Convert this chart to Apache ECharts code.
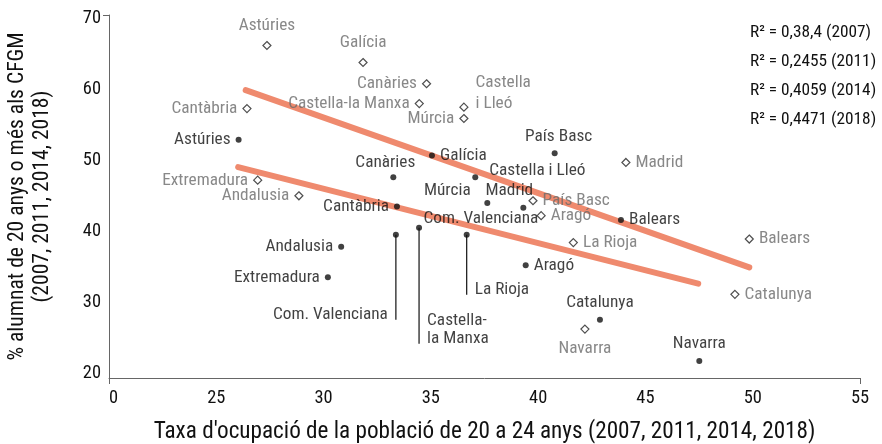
<!DOCTYPE html>
<html>
<head>
<meta charset="utf-8">
<script src="https://cdn.jsdelivr.net/npm/echarts@6/dist/echarts.min.js"></script>
<style>html,body{margin:0;padding:0;background:#fff}#c{width:882px;height:444px}</style>
</head>
<body>
<div id="c"></div>
<script>
// ---- data ----
const diamondNames = ['Astúries','Galícia','Canàries','Castella-la Manxa','Castella i Lleó','Múrcia','Cantàbria','Extremadura','Andalusia','Madrid','País Basc','Aragó','La Rioja','Navarra','Balears','Catalunya','Com. Valenciana'];
const diamondX = [27.36,31.84,34.80,34.46,36.54,36.54,26.43,26.93,28.85,44.09,39.76,40.14,41.64,42.18,49.84,49.17,34.21];
const diamondY = [66.2,63.8,60.8,58.0,57.5,55.9,57.3,47.2,45.0,49.7,44.3,42.2,38.4,26.2,38.9,31.1,41.75];

const dotNames = ['Astúries','Canàries','Galícia','Castella i Lleó','Múrcia','Madrid','País Basc','Balears','Cantàbria','Com. Valenciana','Castella-la Manxa','La Rioja','Andalusia','Extremadura','Aragó','Catalunya','Navarra'];
const dotX = [26.04,33.25,35.05,37.07,37.63,39.31,40.77,43.86,33.42,33.37,34.45,36.67,30.82,30.20,39.42,42.88,47.51];
const dotY = [52.9,47.6,50.7,47.6,44.0,43.3,51.0,41.6,43.5,39.5,40.5,39.5,37.8,33.5,35.2,27.5,21.7];

const trendUpperX = [26.37, 49.84];
const trendUpperY = [59.9, 34.9];
const trendLowerX = [26.02, 47.46];
const trendLowerY = [49.05, 32.6];

const xTickLabels = {20:'0',25:'25',30:'30',35:'35',40:'40',45:'45',50:'50',55:'55'};
const yTickValues = [20,30,40,50,60,70];
const r2Texts = ['R² = 0,38,4 (2007)','R² = 0,2455 (2011)','R² = 0,4059 (2014)','R² = 0,4471 (2018)'];
const xTitle = "Taxa d'ocupació de la població de 20 a 24 anys (2007, 2011, 2014, 2018)";
const yTitle = "% alumnat de 20 anys o més als CFGM\n(2007, 2011, 2014, 2018)";

// ---- label layout (style only) ----
const diamondLayout = {
  'Astúries':{p:'top'}, 'Galícia':{p:'top'}, 'Canàries':{p:'left'}, 'Castella-la Manxa':{p:'left'},
  'Castella i Lleó':{p:'right', o:[2,-14], t:'Castella\ni Lleó'}, 'Múrcia':{p:'left'}, 'Cantàbria':{p:'left'},
  'Extremadura':{p:'left'}, 'Andalusia':{p:'left'}, 'Madrid':{p:'right'}, 'País Basc':{p:'right'},
  'Aragó':{p:'right'}, 'La Rioja':{p:'right'}, 'Navarra':{p:'bottom'}, 'Balears':{p:'right'},
  'Catalunya':{p:'right'}, 'Com. Valenciana':{p:'right', hide:true}
};
const dotLayout = {
  'Astúries':{p:'left'}, 'Canàries':{p:'top', o:[-8,3]}, 'Galícia':{p:'right'},
  'Castella i Lleó':{p:'right', o:[6,-7]}, 'Múrcia':{p:'top', o:[-40,5]}, 'Madrid':{p:'top', o:[-14,0]},
  'País Basc':{p:'top', o:[4,1]}, 'Balears':{p:'right'}, 'Cantàbria':{p:'left'},
  'Com. Valenciana':{p:'left', o:[0,80], lead:85}, 'Castella-la Manxa':{p:'right', o:[0,102], lead:116, t:'Castella-\nla Manxa'},
  'La Rioja':{p:'right', o:[0,55], lead:60}, 'Andalusia':{p:'left'}, 'Extremadura':{p:'left'},
  'Aragó':{p:'right'}, 'Catalunya':{p:'top'}, 'Navarra':{p:'top'}
};

// ---- font selection ----
function fontAvail(name){
  const c = document.createElement('canvas').getContext('2d');
  const t = 'Extremadura Com. Valenciana 0123';
  c.font = '40px monospace'; const a = c.measureText(t).width;
  c.font = '40px "' + name + '", monospace'; const b = c.measureText(t).width;
  return Math.abs(a-b) > 0.5;
}
let FONT = 'Roboto, sans-serif';
for (const f of ['Roboto Condensed','Liberation Sans Narrow','DejaVu Sans Condensed']) {
  if (fontAvail(f)) { FONT = '"' + f + '", Roboto, sans-serif'; break; }
}
const cx = document.createElement('canvas').getContext('2d');
cx.font = '16px ' + FONT;
let k = 86 / cx.measureText('Extremadura').width;
k = Math.max(0.8, Math.min(1.15, k));
const FS = s => Math.round(s * k * 10) / 10;

const GREY = '#6a6a6a', BLACK = '#111';

const diamondData = diamondNames.map((n,i) => {
  const L = diamondLayout[n] || {p:'right'};
  const item = {name:n, value:[diamondX[i], diamondY[i]],
    label:{show:true, position:L.p, formatter: L.t || n, color:GREY, fontSize:FS(16), fontFamily:FONT, lineHeight:FS(19)}};
  if (L.hide) {
    item.itemStyle = {color:'rgba(0,0,0,0)', borderColor:'rgba(0,0,0,0)'};
    item.label.color = BLACK;
  }
  return item;
});
const dotData = dotNames.map((n,i) => {
  const L = dotLayout[n] || {p:'right'};
  return {name:n, value:[dotX[i], dotY[i]],
    label:{show:true, position:L.p, formatter: L.t || n, color:BLACK, fontSize:FS(16), fontFamily:FONT, lineHeight:FS(17)}};
});
const leaderData = [];
dotNames.forEach((n,i) => { const L = dotLayout[n]; if (L && L.lead) leaderData.push([dotX[i], dotY[i], L.lead]); });

const layoutFn = (names, lay) => (params) => {
  const L = lay[names[params.dataIndex]];
  const o = (L && L.o) || [0,0];
  return {dx:o[0], dy:o[1], hideOverlap:false};
};

const chart = echarts.init(document.getElementById('c'), null, {renderer:'canvas'});
chart.setOption({
  animation:false,
  backgroundColor:'#fff',
  grid:{left:109, right:22, top:15, bottom:66, containLabel:false, outerBoundsMode:'none'},
  xAxis:{
    type:'value', min:20, max:55, interval:5,
    axisLine:{show:true, onZero:false, lineStyle:{color:'#666', width:1}},
    axisTick:{show:true, customValues:[20,55], length:6, lineStyle:{color:'#666'}},
    splitLine:{show:false},
    axisLabel:{formatter: v => xTickLabels[v] !== undefined ? xTickLabels[v] : '', color:BLACK, fontSize:FS(17), fontFamily:FONT, margin:11, alignMinLabel:'left'},
    name:xTitle, nameLocation:'middle', nameGap:43,
    nameTextStyle:{color:BLACK, fontSize:FS(21.5), fontFamily:FONT}
  },
  yAxis:{
    type:'value', min:19.3, max:70.5,
    axisLine:{show:true, onZero:false, lineStyle:{color:'#666', width:1}},
    axisTick:{show:true, customValues:[70.5], length:6, lineStyle:{color:'#666'}},
    splitLine:{show:false},
    axisLabel:{customValues:yTickValues, color:BLACK, fontSize:FS(17), fontFamily:FONT, margin:8},
    name:yTitle, nameLocation:'middle', nameGap:54, nameRotate:90,
    nameTextStyle:{color:BLACK, fontSize:FS(20), fontFamily:FONT, lineHeight:FS(23), align:'center'}
  },
  graphic: r2Texts.map((t,i) => ({type:'text', left:750, top:24 + i*29.2, z:10,
    style:{text:t, fill:BLACK, fontSize:FS(16), fontFamily:FONT}})),
  series:[
    {type:'line', data:trendUpperX.map((x,i)=>[x,trendUpperY[i]]), symbol:'none', z:1,
      lineStyle:{color:'#ef8a6e', width:6, cap:'round'}, silent:true},
    {type:'line', data:trendLowerX.map((x,i)=>[x,trendLowerY[i]]), symbol:'none', z:1,
      lineStyle:{color:'#ef8a6e', width:6, cap:'round'}, silent:true},
    {type:'custom', z:2, data:leaderData, renderItem:(params, api) => {
      const p = api.coord([api.value(0), api.value(1)]);
      return {type:'line', shape:{x1:p[0], y1:p[1], x2:p[0], y2:p[1] + api.value(2)}, style:{stroke:BLACK, lineWidth:1.2}};
    }},
    {type:'scatter', z:3, symbol:'diamond', symbolSize:8, data:diamondData,
      itemStyle:{color:'#fff', borderColor:'#222', borderWidth:1.2}, labelLayout:layoutFn(diamondNames, diamondLayout)},
    {type:'scatter', z:4, symbol:'circle', symbolSize:6, data:dotData,
      itemStyle:{color:BLACK}, labelLayout:layoutFn(dotNames, dotLayout)}
  ]
});
</script>
</body>
</html>
